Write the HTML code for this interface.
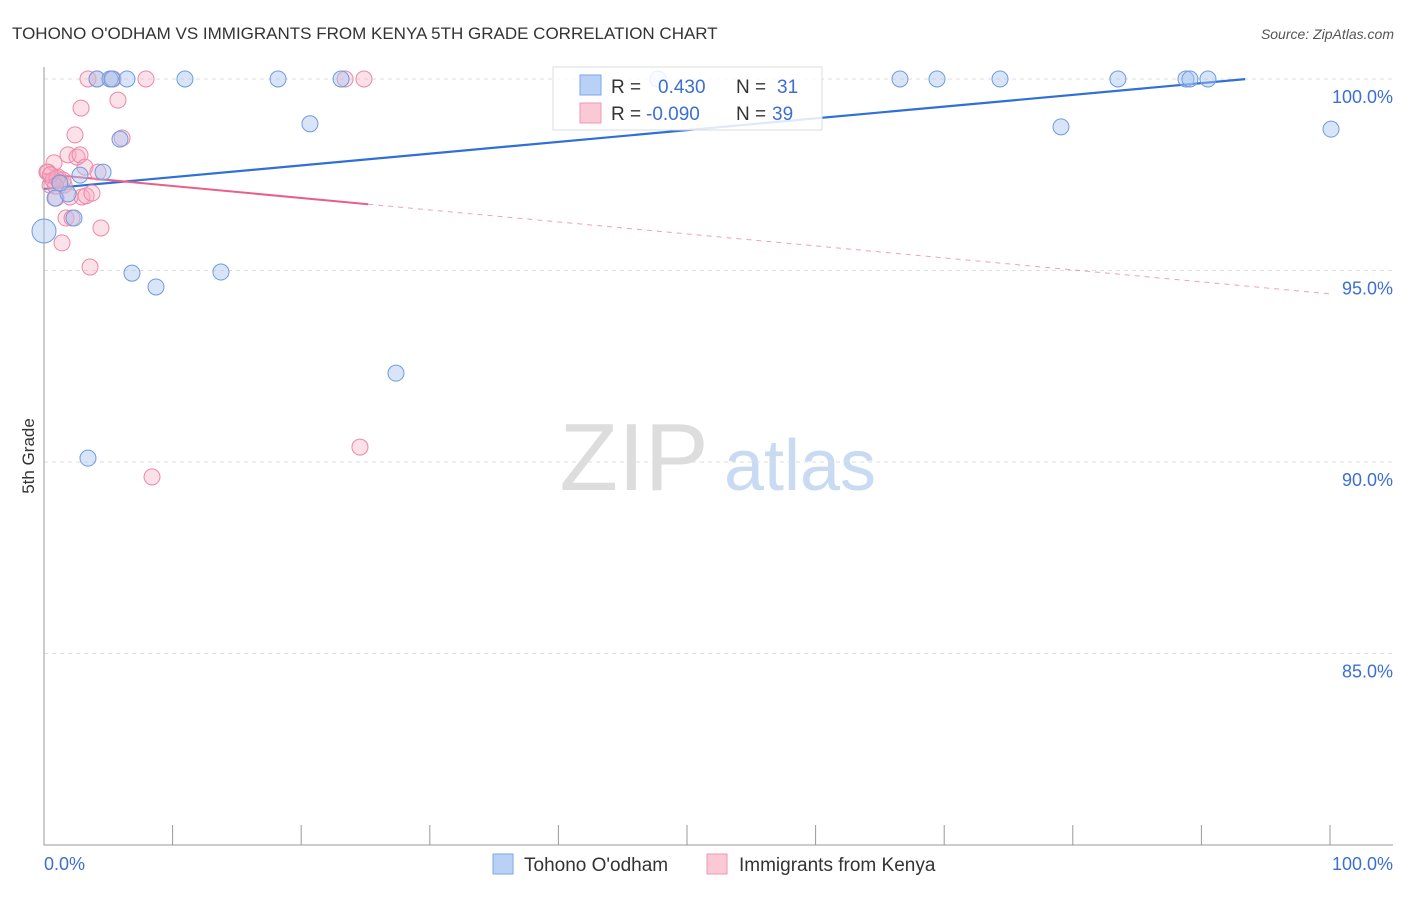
<!DOCTYPE html>
<html><head><meta charset="utf-8"><style>
body{margin:0;background:#fff;font-family:"Liberation Sans",sans-serif;}
svg text{font-family:"Liberation Sans",sans-serif;}
</style></head><body>
<svg id="chart" width="1406" height="892" xmlns="http://www.w3.org/2000/svg">
<text x="12" y="39" font-size="17" fill="#333">TOHONO O'ODHAM VS IMMIGRANTS FROM KENYA 5TH GRADE CORRELATION CHART</text>
<text x="1394" y="39" font-size="14" fill="#555" font-style="italic" text-anchor="end">Source: ZipAtlas.com</text>
<text x="34" y="456" font-size="17" fill="#333" text-anchor="middle" transform="rotate(-90 34 456)">5th Grade</text>
<g>
<text x="634" y="490" font-size="96" fill="#ddd" font-family="Liberation Serif,serif" text-anchor="middle">ZIP</text>
<text x="800" y="490" font-size="72" fill="#c9daf3" text-anchor="middle">atlas</text>
</g>
<g id="grid"></g><g id="axes"></g><g id="trends"></g><g id="pts"></g>
<g>
<rect x="553" y="67" width="269" height="63" fill="#fff" fill-opacity="0.85" stroke="#ddd"/>
<rect x="580" y="75" width="21" height="20" fill="#b8d1f5" stroke="#7ea6e8"/>
<rect x="580" y="103" width="21" height="20" fill="#fbc9d6" stroke="#ee99b2"/>
<text x="611" y="93" font-size="19" fill="#333">R =</text>
<text x="658" y="93" font-size="19" fill="#3b6fd4">0.430</text>
<text x="736" y="93" font-size="19" fill="#333">N =</text>
<text x="777" y="93" font-size="19" fill="#3b6fd4">31</text>
<text x="611" y="120" font-size="19" fill="#333">R =</text>
<text x="646" y="120" font-size="19" fill="#3b6fd4">-0.090</text>
<text x="736" y="120" font-size="19" fill="#333">N =</text>
<text x="772" y="120" font-size="19" fill="#3b6fd4">39</text>
</g>
<g>
<rect x="493" y="854" width="20" height="20" fill="#b8d1f5" stroke="#7ea6e8"/>
<text x="524" y="871" font-size="19" fill="#333">Tohono O'odham</text>
<rect x="707" y="854" width="20" height="20" fill="#fbc9d6" stroke="#ee99b2"/>
<text x="739" y="871" font-size="19" fill="#333">Immigrants from Kenya</text>
</g>
</svg>
<script>
const yTicks=[100,95,90,85];
const yTickLabels=["100.0%","95.0%","90.0%","85.0%"];
const xEndLabels=["0.0%","100.0%"];
const blueX=[0,0.86,1.87,2.33,2.8,3.42,4.12,5.13,5.29,6.45,5.91,4.59,6.84,8.71,10.96,13.76,18.2,20.68,23.1,27.37,47.74,66.56,69.44,74.34,79.08,83.51,88.8,89.11,90.51,100.08,1.24];
const blueY=[96.03,96.89,97.0,96.37,97.49,90.1,100,100,100,100,98.43,97.57,94.93,94.57,100,94.96,100,98.83,100,92.32,100,100,100,100,98.75,100,100,100,100,98.69,97.28];
const pinkX=[0.31,0.47,0.78,0.93,1.09,1.4,1.56,1.71,1.87,2.18,2.41,2.57,2.8,2.88,2.95,3.19,3.27,3.42,3.58,3.73,4.12,4.2,4.43,5.37,5.75,6.07,7.93,8.4,23.41,24.57,24.88,0.23,1.48,0.7,2.02,1.0,1.2,0.5,0.9];
const pinkY=[97.57,97.23,97.81,96.89,97.44,95.72,97.23,96.37,98.02,96.37,98.54,97.96,98.02,99.24,96.92,97.7,96.95,100,95.09,97.02,100,97.57,96.11,100,99.45,98.46,100,89.61,100,90.39,100,97.57,97.36,97.36,96.92,97.4,97.3,97.5,97.2];
const blueTrend=[97.13,100.2];   // value at x=0, x=100
const pinkTrend=[97.52,94.39];
const pinkSolidEnd=25.2;
const X=v=>44+v*12.86, Y=v=>79+(100-v)*38.3;
const NS="http://www.w3.org/2000/svg";
function mk(p,t,a){const e=document.createElementNS(NS,t);for(const k in a)e.setAttribute(k,a[k]);document.getElementById(p).appendChild(e);return e;}
yTicks.forEach((t,i)=>{
 const l=mk('grid','line',{x1:44,x2:1393,y1:Y(t),y2:Y(t),stroke:'#ddd','stroke-dasharray':'4,4'});
 
 
 const tx=mk('grid','text',{x:1393,y:Y(t)+24,'font-size':18,fill:'#3b6fd4','text-anchor':'end'});
 tx.textContent=yTickLabels[i];
 
 
});
const ax=mk('axes','path',{d:'M44 67V845H1393',stroke:'#999',fill:'none'});


for(let i=0;i<=10;i++){const t=mk('axes','line',{x1:X(i*10),x2:X(i*10),y1:825,y2:845,stroke:'#999'});
 
 }
[[X(0),'start'],[1393,'end']].forEach((p,i)=>{const t=mk('axes','text',{x:p[0],y:870,'font-size':18,fill:'#3b6fd4','text-anchor':p[1]});t.textContent=xEndLabels[i];
 
 });
function tv(tr,x){return tr[0]+(tr[1]-tr[0])*x/100;}
let l=mk('trends','line',{x1:X(0),y1:Y(tv(blueTrend,0)),x2:X(93.4),y2:Y(tv(blueTrend,93.4)),stroke:'#2f6fd8','stroke-width':2.2});


l=mk('trends','line',{x1:X(0),y1:Y(tv(pinkTrend,0)),x2:X(pinkSolidEnd),y2:Y(tv(pinkTrend,pinkSolidEnd)),stroke:'#e8608a','stroke-width':2});


l=mk('trends','line',{x1:X(pinkSolidEnd),y1:Y(tv(pinkTrend,pinkSolidEnd)),x2:X(100),y2:Y(tv(pinkTrend,100)),stroke:'#e8608a','stroke-width':1,'stroke-dasharray':'5,5','opacity':0.6});


pinkX.forEach((x,i)=>{const c=mk('pts','circle',{cx:X(x),cy:Y(pinkY[i]),r:8,fill:'#f7a8c0','fill-opacity':0.35,stroke:'#ec88a8','stroke-width':1});
 
 });
blueX.forEach((x,i)=>{const c=mk('pts','circle',{cx:X(x),cy:Y(blueY[i]),r:i==0?12:8,fill:'#a9c6f0','fill-opacity':0.45,stroke:'#6f9be0','stroke-width':1});
 
 });
</script>
</body></html>
